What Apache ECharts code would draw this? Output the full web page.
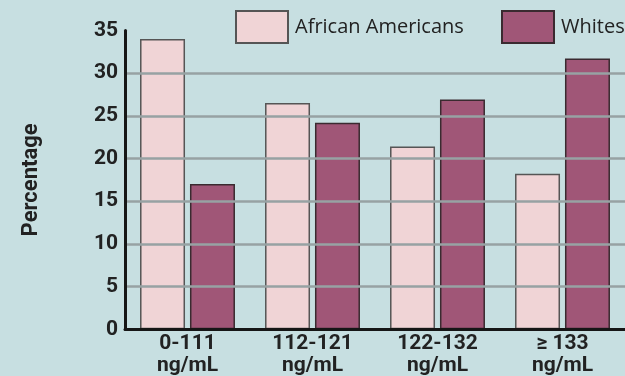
<!DOCTYPE html>
<html>
<head>
<meta charset="utf-8">
<script src="https://cdn.jsdelivr.net/npm/echarts@6/dist/echarts.min.js"></script>
<style>
  html, body { margin: 0; padding: 0; background: #c7dfe1; }
  #chart { width: 625px; height: 376px; }
</style>
</head>
<body>
<div id="chart"></div>
<script>
// Serum level bands (x axis) and share of each group per band (%)
const categories = ['0-111\nng/mL', '112-121\nng/mL', '122-132\nng/mL', '\u2265 133\nng/mL'];
const africanAmericans = [34, 26.5, 21.4, 18.2];
const whites = [17, 24.2, 26.9, 31.7];
const seriesNames = ['African Americans', 'Whites'];
const yTicks = { min: 0, max: 35, interval: 5 };

const tickFont = 'Roboto, "Liberation Sans", sans-serif';
const legendFont = '"Open Sans", sans-serif';

const chart = echarts.init(document.getElementById('chart'), null, { renderer: 'canvas' });

function legendAt(name, left) {
  return {
    data: [name], left: left, top: 10, padding: 0,
    icon: 'rect',
    itemWidth: 52, itemHeight: 32, itemGap: 0,
    textStyle: { fontFamily: legendFont, fontSize: 20, color: '#222', padding: [0, 0, 0, 2] }
  };
}

chart.setOption({
  backgroundColor: '#c7dfe1',
  animation: false,
  grid: { left: 125, right: 0, top: 30.4, bottom: 46.7, outerBoundsMode: 'none', containLabel: false },
  legend: [legendAt(seriesNames[0], 235), legendAt(seriesNames[1], 501)],
  xAxis: {
    type: 'category',
    data: categories,
    axisLine: { lineStyle: { color: '#161616', width: 3 } },
    axisTick: { show: false },
    axisLabel: {
      fontFamily: tickFont, fontWeight: 'bold', fontSize: 21, color: '#222',
      lineHeight: 22, margin: 3
    },
    z: 5
  },
  yAxis: {
    type: 'value',
    min: yTicks.min, max: yTicks.max, interval: yTicks.interval,
    name: 'Percentage',
    nameLocation: 'middle',
    nameRotate: 90,
    nameGap: 83,
    nameTextStyle: { fontFamily: tickFont, fontWeight: 'bold', fontSize: 22, color: '#222' },
    axisLine: { show: true, lineStyle: { color: '#161616', width: 3 } },
    axisTick: { show: false },
    axisLabel: { fontFamily: tickFont, fontWeight: 'bold', fontSize: 21, color: '#222', margin: 7 },
    splitLine: { show: true, showMaxLine: false, lineStyle: { color: '#97a2a3', width: 2.5 } },
    z: 5
  },
  series: [
    {
      name: seriesNames[0], type: 'bar', data: africanAmericans,
      barWidth: 45, barGap: '11%',
      itemStyle: { color: '#f0d4d6', borderColor: '#555', borderWidth: 1.5 }
    },
    {
      name: seriesNames[1], type: 'bar', data: whites,
      barWidth: 45,
      itemStyle: { color: '#a05677', borderColor: '#3a2a30', borderWidth: 1.5 }
    }
  ]
});
</script>
</body>
</html>
